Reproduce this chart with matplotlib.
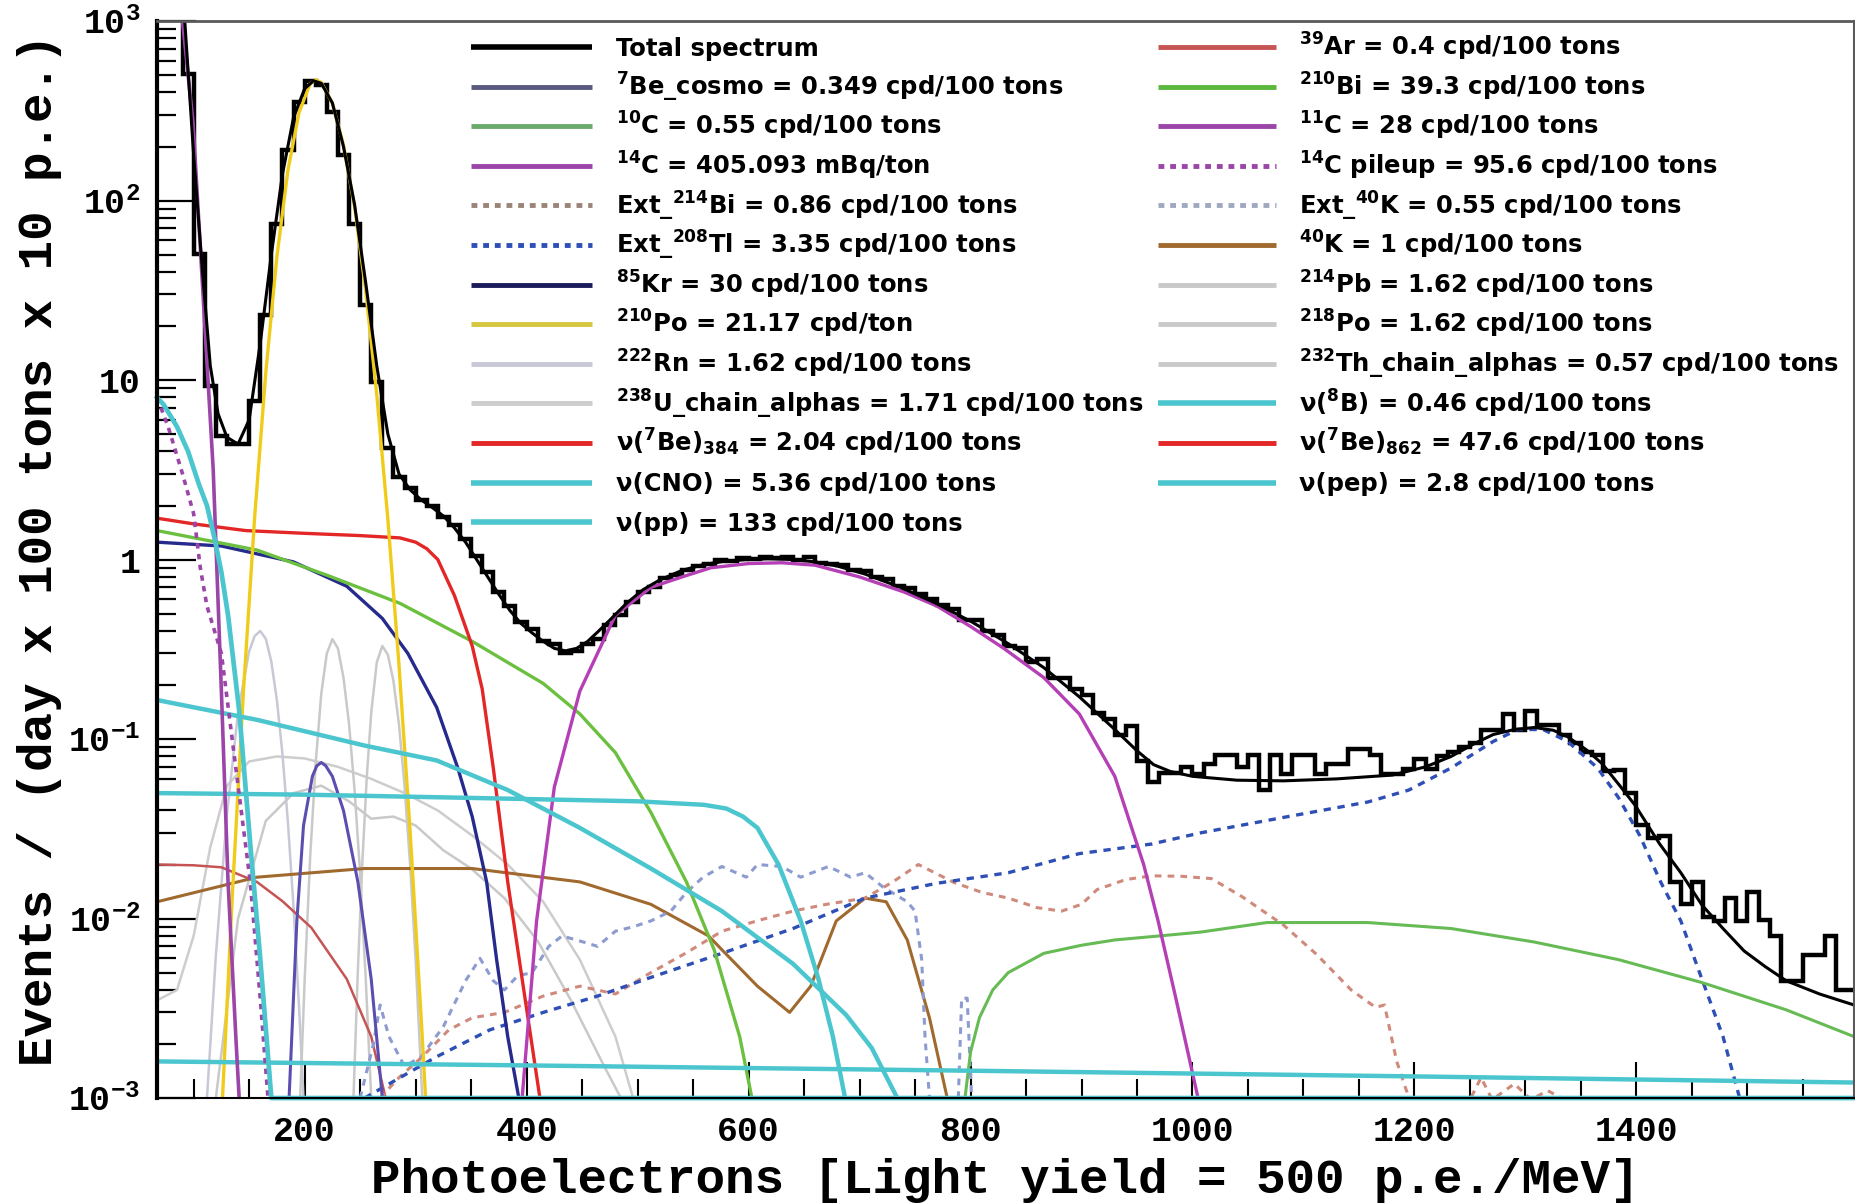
import numpy as np
import matplotlib.pyplot as plt
from matplotlib.ticker import MultipleLocator, FixedLocator, NullFormatter

plt.rcParams['font.family'] = ['Liberation Mono', 'DejaVu Sans Mono']
plt.rcParams['font.weight'] = 'bold'
plt.rcParams['mathtext.default'] = 'regular'

# total spectrum, 10 p.e. bins starting at 60 p.e.
bin_start, bin_stop, bin_width = 60, 1600, 10
hist_counts = [
    3000, 3000, 3000, 505, 50.7, 9.3, 4.9, 4.4, 4.4, 7.6,
    22.9, 73.8, 191, 354, 461, 441, 310, 179, 73.8, 26.1,
    9.7, 4.2, 2.9, 2.5, 2.15, 2.0, 1.72, 1.55, 1.3, 1.05,
    0.85, 0.66, 0.55, 0.45, 0.41, 0.35, 0.34, 0.30, 0.31, 0.34,
    0.36, 0.43, 0.49, 0.58, 0.66, 0.70, 0.79, 0.82, 0.88, 0.92,
    0.94, 0.99, 0.98, 1.02, 1.01, 1.04, 1.02, 1.03, 0.99, 1.03,
    0.96, 0.95, 0.93, 0.88, 0.86, 0.80, 0.78, 0.71, 0.69, 0.64,
    0.60, 0.56, 0.53, 0.46, 0.46, 0.40, 0.38, 0.33, 0.32, 0.27,
    0.28, 0.22, 0.22, 0.19, 0.175, 0.14, 0.13, 0.105, 0.118, 0.075,
    0.058, 0.065, 0.065, 0.07, 0.064, 0.073, 0.082, 0.082, 0.07, 0.082,
    0.052, 0.082, 0.064, 0.082, 0.082, 0.064, 0.073, 0.073, 0.088, 0.088,
    0.082, 0.064, 0.064, 0.068, 0.077, 0.068, 0.08, 0.085, 0.09, 0.095,
    0.113, 0.113, 0.138, 0.113, 0.143, 0.12, 0.12, 0.105, 0.095, 0.085,
    0.082, 0.066, 0.067, 0.05, 0.033, 0.028, 0.029, 0.016, 0.012, 0.016,
    0.0102, 0.0097, 0.013, 0.0097, 0.014, 0.0098, 0.008, 0.0045, 0.0045, 0.0063,
    0.0063, 0.008, 0.004, 0.004,
]

# fitted total (p.e., events)
total_fit = [
    (88, 2000), (92, 1000), (100, 180), (108, 40), (115, 12), (122, 6.5), (130, 4.8),
    (140, 4.4), (150, 6.0), (160, 16), (170, 50), (180, 140), (190, 290), (200, 420),
    (208, 465), (215, 450), (225, 350), (235, 200), (245, 95), (255, 35), (265, 12),
    (275, 5.0), (285, 3.0), (295, 2.45), (305, 2.15), (315, 1.95), (325, 1.75),
    (335, 1.5), (345, 1.25), (355, 1.0), (365, 0.8), (375, 0.64), (385, 0.52),
    (395, 0.44), (405, 0.39), (415, 0.35), (425, 0.32), (435, 0.31), (445, 0.32),
    (455, 0.35), (465, 0.40), (475, 0.46), (490, 0.57), (505, 0.68), (520, 0.77),
    (540, 0.87), (560, 0.94), (580, 0.98), (600, 1.0), (620, 1.01), (640, 1.0),
    (660, 0.97), (680, 0.92), (705, 0.83), (737, 0.70), (769, 0.57), (801, 0.45),
    (834, 0.34), (866, 0.25), (898, 0.172), (930, 0.113), (950, 0.086), (965, 0.072),
    (980, 0.066), (1000, 0.062), (1040, 0.059), (1082, 0.0585), (1130, 0.06),
    (1180, 0.063), (1210, 0.07), (1233, 0.08), (1255, 0.095), (1271, 0.106),
    (1290, 0.113), (1308, 0.116), (1325, 0.112), (1338, 0.103), (1355, 0.087),
    (1369, 0.073), (1385, 0.055), (1399, 0.0426), (1421, 0.026), (1440, 0.018),
    (1459, 0.0119), (1478, 0.0088), (1497, 0.0066), (1516, 0.0054), (1535, 0.0045),
    (1565, 0.0038), (1596, 0.0033),
]

# fit components
c14 = [(80, 5000), (90, 1000), (99.5, 270), (108.6, 29), (117.6, 3.2), (120.6, 1.0),
       (125, 0.185), (131, 0.016), (138, 0.0022), (141, 0.001)]
c14_pileup = [(67, 8.0), (77, 5.5), (90, 3.0), (100, 1.8), (106, 0.9), (112, 0.55),
              (125, 0.30), (138, 0.069), (151, 0.016), (160, 0.0036), (167, 0.001)]
nu_pp = [(67, 8.0), (73, 7.3), (85, 5.5), (95, 4.0), (105, 2.6), (112, 2.0), (119, 1.3),
         (125, 0.85), (131, 0.49), (141, 0.145), (151, 0.026), (160, 0.006),
         (170, 0.001), (1596, 0.001)]
nu_cno = [(67, 0.165), (157, 0.128), (254, 0.092), (319, 0.076), (383, 0.052),
          (448, 0.032), (512, 0.019), (576, 0.011), (640, 0.0056), (688, 0.0029),
          (711, 0.0019), (734, 0.001)]
nu_pep = [(67, 0.05), (200, 0.049), (350, 0.047), (500, 0.045), (560, 0.043),
          (580, 0.041), (595, 0.037), (608, 0.032), (627, 0.02), (647, 0.0097),
          (663, 0.0046), (676, 0.0022), (687, 0.001)]
nu_b8 = [(67, 0.0016), (400, 0.00152), (800, 0.00142), (1200, 0.00132), (1596, 0.00122)]
nu_be862 = [(67, 1.70), (100, 1.58), (147, 1.45), (200, 1.40), (250, 1.36), (286, 1.32),
            (300, 1.25), (310, 1.15), (320, 1.0), (335, 0.63), (351, 0.33), (360, 0.19),
            (370, 0.069), (383, 0.016), (396, 0.0046), (412, 0.001)]
bi210 = [(67, 1.45), (157, 1.13), (222, 0.81), (286, 0.57), (351, 0.35), (415, 0.204),
         (448, 0.138), (480, 0.084), (512, 0.039), (544, 0.016), (569, 0.0067),
         (592, 0.0022), (603, 0.001)]
kr85 = [(67, 1.25), (125, 1.19), (190, 0.97), (238, 0.71), (270, 0.47), (293, 0.30),
        (319, 0.15), (338, 0.069), (351, 0.037), (364, 0.016), (373, 0.0059),
        (383, 0.0022), (393, 0.001)]
be7_cosmo = [(186, 0.001), (193, 0.0097), (199, 0.033), (207, 0.062), (211, 0.071),
             (215, 0.074), (219, 0.071), (225, 0.062), (235, 0.04), (248, 0.016),
             (260, 0.0046), (270, 0.001)]
po210 = [(126, 0.001), (135, 0.014), (145, 0.19), (155, 1.73), (165, 11), (175, 48.6),
         (185, 148), (195, 310), (205, 449), (210, 470), (215, 455), (225, 348),
         (235, 204), (245, 92), (255, 31.6), (265, 8.3), (275, 1.68), (285, 0.26),
         (295, 0.031), (305, 0.0028), (309, 0.001)]
rn222 = [(112, 0.001), (120, 0.0062), (130, 0.038), (140, 0.141), (150, 0.308),
         (155, 0.375), (160, 0.40), (165, 0.362), (170, 0.27), (175, 0.165),
         (180, 0.083), (185, 0.034), (190, 0.0116), (195, 0.0032), (199, 0.001)]
po218 = [(196, 0.001), (200, 0.0045), (205, 0.022), (210, 0.074), (215, 0.179),
         (220, 0.30), (225, 0.36), (230, 0.32), (235, 0.22), (240, 0.122), (245, 0.052),
         (250, 0.0178), (255, 0.0047), (260, 0.001)]
th232_alphas = [(244, 0.001), (248, 0.0052), (252, 0.0205), (256, 0.0615), (260, 0.14),
                (265, 0.267), (270, 0.33), (275, 0.295), (280, 0.211), (285, 0.121),
                (290, 0.055), (295, 0.0201), (300, 0.0059), (306, 0.001)]
u238_alphas = [(67, 0.0035), (85, 0.004), (100, 0.008), (115, 0.025), (130, 0.055),
               (150, 0.075), (175, 0.08), (200, 0.078), (230, 0.07), (260, 0.06),
               (290, 0.05), (320, 0.04), (351, 0.029), (383, 0.02), (415, 0.0124),
               (448, 0.0059), (480, 0.0022), (496, 0.001)]
pb214 = [(120, 0.001), (140, 0.01), (165, 0.035), (190, 0.05), (215, 0.055), (240, 0.045),
         (260, 0.036), (280, 0.037), (300, 0.033), (325, 0.024), (350, 0.019),
         (380, 0.013), (410, 0.0075), (440, 0.0035), (470, 0.0015), (485, 0.001)]
k40 = [(67, 0.0124), (157, 0.017), (254, 0.019), (351, 0.019), (448, 0.016), (512, 0.012),
       (564, 0.008), (576, 0.0067), (608, 0.0042), (637, 0.003), (656, 0.0042),
       (679, 0.0097), (705, 0.013), (724, 0.0124), (743, 0.0076), (763, 0.0028),
       (779, 0.001)]
ar39 = [(67, 0.02), (100, 0.0198), (125, 0.0193), (157, 0.016), (180, 0.0125),
        (206, 0.0089), (238, 0.0046), (260, 0.0022), (273, 0.001)]
c11 = [(396, 0.001), (409, 0.0097), (425, 0.054), (448, 0.185), (480, 0.49), (512, 0.70),
       (540, 0.80), (566, 0.90), (600, 0.95), (630, 0.96), (660, 0.93), (700, 0.80),
       (740, 0.66), (770, 0.55), (801, 0.42), (830, 0.32), (866, 0.22), (898, 0.138),
       (930, 0.062), (956, 0.02), (969, 0.0097), (985, 0.0036), (1005, 0.001)]
c10 = [(795, 0.001), (800, 0.0018), (808, 0.0028), (820, 0.004), (834, 0.005),
       (866, 0.0064), (900, 0.0071), (930, 0.0076), (970, 0.008), (1007, 0.0084),
       (1067, 0.0095), (1158, 0.0095), (1233, 0.0088), (1308, 0.0074), (1384, 0.0059),
       (1459, 0.0044), (1535, 0.0031), (1596, 0.0022)]
ext_tl208 = [(254, 0.001), (286, 0.0013), (319, 0.0017), (367, 0.0024), (415, 0.003),
             (464, 0.0037), (512, 0.0047), (576, 0.0064), (640, 0.0088), (705, 0.013),
             (769, 0.0157), (834, 0.018), (898, 0.023), (963, 0.026), (1007, 0.03),
             (1082, 0.0366), (1158, 0.0446), (1195, 0.052), (1233, 0.069), (1271, 0.097),
             (1293, 0.113), (1316, 0.113), (1338, 0.097), (1365, 0.069), (1384, 0.047),
             (1403, 0.029), (1422, 0.0159), (1440, 0.0097), (1459, 0.0046),
             (1478, 0.0022), (1493, 0.001)]
ext_bi214 = [(268, 0.001), (285, 0.0013), (306, 0.0017), (330, 0.0024), (351, 0.0028),
             (380, 0.003), (415, 0.0037), (448, 0.0042), (480, 0.0038), (512, 0.005),
             (545, 0.0065), (576, 0.0085), (610, 0.0098), (640, 0.011), (670, 0.012),
             (705, 0.013), (730, 0.016), (753, 0.02), (785, 0.0159), (810, 0.014),
             (834, 0.013), (860, 0.0115), (882, 0.011), (900, 0.012), (914, 0.0145),
             (940, 0.0165), (963, 0.0173), (990, 0.0172), (1017, 0.0167), (1045, 0.0132),
             (1082, 0.0092), (1112, 0.0063), (1143, 0.004), (1165, 0.0032),
             (1173, 0.0033), (1184, 0.0016), (1195, 0.001), (1250, 0.00098),
             (1260, 0.0013), (1270, 0.00098), (1290, 0.0012), (1305, 0.00098),
             (1320, 0.0011), (1335, 0.00098)]
ext_k40 = [(250, 0.001), (262, 0.002), (268, 0.0033), (276, 0.0022), (290, 0.0015),
           (305, 0.0017), (325, 0.0025), (345, 0.0045), (358, 0.006), (370, 0.0045),
           (380, 0.004), (392, 0.0048), (405, 0.005), (420, 0.007), (432, 0.008),
           (448, 0.0075), (464, 0.007), (480, 0.0085), (496, 0.009), (512, 0.0097),
           (530, 0.011), (544, 0.014), (559, 0.017), (576, 0.0195), (598, 0.017),
           (608, 0.02), (630, 0.0195), (647, 0.017), (672, 0.0195), (692, 0.017),
           (705, 0.018), (721, 0.015), (743, 0.0124), (750, 0.011), (756, 0.0059),
           (759, 0.0022), (763, 0.001)]
ext_k40_blip = [(789, 0.001), (792, 0.0036), (797, 0.0036), (801, 0.001)]

CYAN = '#4cc6ce'
GRAY = '#c9c9c9'
RED = '#e32626'

fig = plt.figure(figsize=(18.56, 12.04), dpi=100)
ax = fig.add_axes([0.0846, 0.0880, 0.9143, 0.8945])
ax.set_yscale('log')


def curve(pts, color, lw=2.2, ls='-', **kw):
    a = np.asarray(pts, dtype=float)
    ax.plot(a[:, 0], a[:, 1], color=color, lw=lw, ls=ls, **kw)


dash = (0, (2.2, 2.0))
curve(u238_alphas, '#cdcdcd', 1.8)
curve(pb214, GRAY, 1.8)
curve(rn222, '#c8c8d6', 1.8)
curve(po218, GRAY, 1.8)
curve(th232_alphas, GRAY, 1.8)
curve(ar39, '#c65454', 1.8)
curve(k40, '#a0692e', 2.2)
curve(ext_bi214, '#cf8a7c', 2.2, dash)
curve(ext_k40, '#8d9bd0', 2.2, dash)
curve(ext_k40_blip, '#8d9bd0', 2.2, dash)
curve(ext_tl208, '#2e4fb5', 2.4, dash)
curve(c10, '#66bb55', 2.2)
curve(be7_cosmo, '#5a4fb0', 2.2)
curve(kr85, '#262a8c', 2.4)
curve(bi210, '#6cc040', 2.4)
curve(nu_be862, RED, 2.4)
curve(c11, '#b53fb5', 2.4)
curve(po210, '#f0cc1a', 2.4)
curve(nu_cno, CYAN, 3.2)
curve(nu_pep, CYAN, 3.2)
curve(nu_b8, CYAN, 3.2)
curve(c14, '#9b45a8', 2.6)
curve(c14_pileup, '#9b45a8', 2.6, (0, (1.5, 1.5)))
curve(nu_pp, CYAN, 3.4, clip_on=False)

fit = np.asarray(total_fit, dtype=float)
ax.plot(fit[:, 0], fit[:, 1], color='black', lw=2.2)
edges = np.arange(bin_start, bin_stop + bin_width, bin_width)
ax.stairs(hist_counts, edges, color='black', lw=3.2, baseline=None)

ax.set_xlim(67, 1596)
ax.set_ylim(1e-3, 1e3)

ax.xaxis.set_major_locator(MultipleLocator(200))
ax.xaxis.set_minor_locator(MultipleLocator(50))
ax.yaxis.set_major_locator(FixedLocator([1e-3, 1e-2, 1e-1, 1, 10, 100, 1000]))
ax.yaxis.set_minor_locator(FixedLocator(
    [m * 10.0 ** e for e in range(-3, 3) for m in range(2, 10)]))
ax.yaxis.set_minor_formatter(NullFormatter())
ax.set_yticklabels(['10$^{-3}$', '10$^{-2}$', '10$^{-1}$', '1', '10',
                    '10$^{2}$', '10$^{3}$'])
ax.tick_params(axis='x', which='major', direction='in', length=26, width=1.5,
               labelsize=25, pad=12, top=False)
ax.tick_params(axis='x', which='minor', direction='in', length=14, width=1.5, top=False)
ax.tick_params(axis='y', which='major', direction='in', length=28, width=1.6,
               labelsize=25, pad=12, right=False)
ax.tick_params(axis='y', which='minor', direction='in', length=14, width=1.6, right=False)

ax.spines['left'].set_linewidth(3.0)
ax.spines['bottom'].set_linewidth(1.5)
ax.spines['top'].set_color('#5a5a5a')
ax.spines['top'].set_linewidth(2.0)
ax.spines['right'].set_color('#5a5a5a')
ax.spines['right'].set_linewidth(1.5)

ax.set_xlabel('Photoelectrons [Light yield = 500 p.e./MeV]', fontsize=35.5,
              fontweight='bold')
ax.set_ylabel('Events / (day x 100 tons x 10 p.e.)', fontsize=35.5, fontweight='bold')
ax.xaxis.set_label_coords(0.5, -0.056)
ax.yaxis.set_label_coords(-0.056, 0.509)

# legend, two columns drawn row by row
col1 = [
    ('Total spectrum', 'black', '-', 4.0),
    ('$^{7}$Be_cosmo = 0.349 cpd/100 tons', '#5a5a80', '-', 3.5),
    ('$^{10}$C = 0.55 cpd/100 tons', '#6aaa6a', '-', 3.5),
    ('$^{14}$C = 405.093 mBq/ton', '#9b45a8', '-', 3.5),
    ('Ext_$^{214}$Bi = 0.86 cpd/100 tons', '#9a8478', (0, (1.2, 1.2)), 3.5),
    ('Ext_$^{208}$Tl = 3.35 cpd/100 tons', '#2e4fb5', (0, (1.2, 1.2)), 3.5),
    ('$^{85}$Kr = 30 cpd/100 tons', '#1c1c5a', '-', 3.5),
    ('$^{210}$Po = 21.17 cpd/ton', '#d6c640', '-', 3.5),
    ('$^{222}$Rn = 1.62 cpd/100 tons', '#c8c8d6', '-', 3.5),
    ('$^{238}$U_chain_alphas = 1.71 cpd/100 tons', '#cdcdcd', '-', 3.5),
    ('ν($^{7}$Be)$_{384}$ = 2.04 cpd/100 tons', RED, '-', 3.5),
    ('ν(CNO) = 5.36 cpd/100 tons', CYAN, '-', 4.0),
    ('ν(pp) = 133 cpd/100 tons', CYAN, '-', 4.0),
]
col2 = [
    ('$^{39}$Ar = 0.4 cpd/100 tons', '#c65454', '-', 3.5),
    ('$^{210}$Bi = 39.3 cpd/100 tons', '#5cb83c', '-', 3.5),
    ('$^{11}$C = 28 cpd/100 tons', '#9b45a8', '-', 3.5),
    ('$^{14}$C pileup = 95.6 cpd/100 tons', '#9b45a8', (0, (1.2, 1.2)), 3.5),
    ('Ext_$^{40}$K = 0.55 cpd/100 tons', '#a0a8c0', (0, (1.2, 1.2)), 3.5),
    ('$^{40}$K = 1 cpd/100 tons', '#a0692e', '-', 3.5),
    ('$^{214}$Pb = 1.62 cpd/100 tons', GRAY, '-', 3.5),
    ('$^{218}$Po = 1.62 cpd/100 tons', GRAY, '-', 3.5),
    ('$^{232}$Th_chain_alphas = 0.57 cpd/100 tons', GRAY, '-', 3.5),
    ('ν($^{8}$B) = 0.46 cpd/100 tons', CYAN, '-', 4.0),
    ('ν($^{7}$Be)$_{862}$ = 47.6 cpd/100 tons', RED, '-', 3.5),
    ('ν(pep) = 2.8 cpd/100 tons', CYAN, '-', 4.0),
]

ax_h = 1077.0            # axes height in pixels
row0, pitch = 26.0, 39.6  # first row below the top frame, row spacing (px)
base_shift = 8.8         # baseline sits this far below the line centre (px)
for entries, (h0, h1, tx) in ((col1, (0.185, 0.2564, 0.2702)),
                              (col2, (0.5899, 0.6594, 0.6727))):
    for i, (label, color, ls, lw) in enumerate(entries):
        y = 1 - (row0 + pitch * i) / ax_h
        ax.plot([h0, h1], [y, y], transform=ax.transAxes, color=color, ls=ls, lw=lw,
                clip_on=False, solid_capstyle='butt')
        ax.text(tx, y - base_shift / ax_h, label, transform=ax.transAxes,
                va='baseline', ha='left', fontsize=17.5, fontweight='bold',
                family=['DejaVu Sans'])

fig.savefig('out.png', dpi=100)
